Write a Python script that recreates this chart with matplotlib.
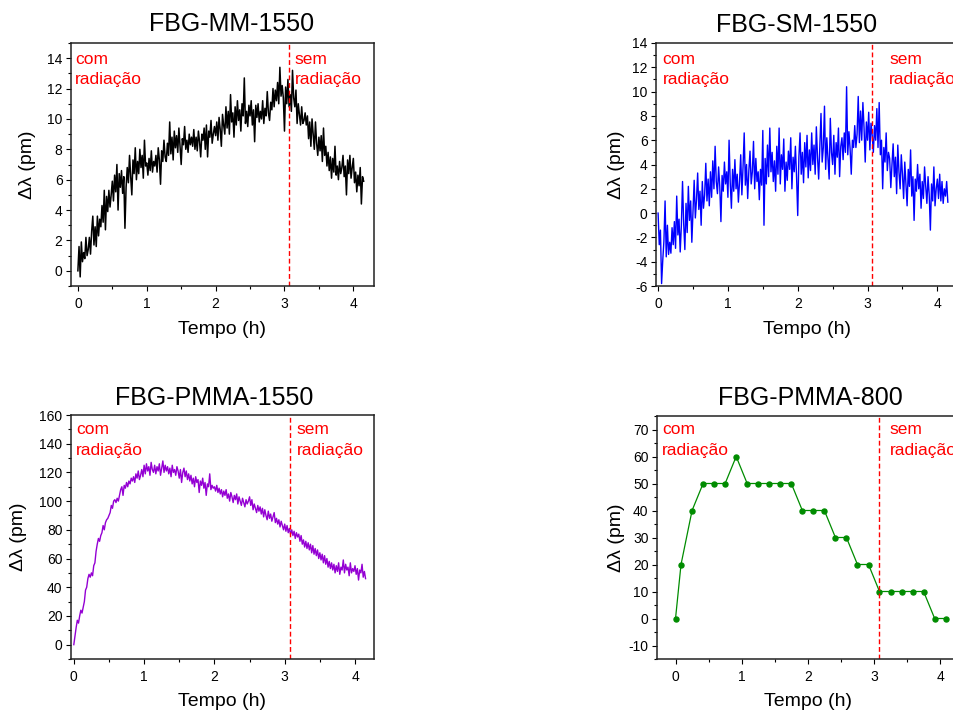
import numpy as np
import matplotlib
matplotlib.use("Agg")
import matplotlib.pyplot as plt
from matplotlib.ticker import MultipleLocator

plt.rcParams['font.family'] = ['Liberation Sans', 'DejaVu Sans']
plt.rcParams['axes.unicode_minus'] = False

# ---------------- data ----------------
sample_step_h = 1.0 / 60.0   # one reading per minute

mm_1550 = [
    0.0, 1.6, -0.4, 1.9, 0.6, 1.2, 0.8, 2.2, 1.0, 1.4,
    2.2, 1.1, 2.6, 3.6, 1.7, 2.9, 1.6, 3.6, 2.3, 3.4,
    2.9, 4.3, 3.2, 5.3, 2.7, 4.9, 3.9, 5.3, 4.2, 5.0,
    5.9, 4.6, 6.3, 5.2, 7.0, 4.0, 6.4, 5.5, 6.6, 5.1,
    6.2, 2.8, 5.5, 6.8, 5.8, 7.6, 6.2, 5.0, 7.3, 6.4,
    8.1, 6.0, 7.2, 6.4, 8.0, 6.8, 7.6, 6.1, 8.6, 6.9,
    7.1, 6.3, 7.4, 6.6, 7.9, 6.5, 7.2, 6.9, 7.6, 6.5,
    8.1, 7.3, 5.7, 7.9, 7.2, 8.6, 7.5, 7.2, 8.4, 7.6,
    9.8, 7.7, 8.8, 7.3, 9.2, 8.1, 8.9, 7.8, 9.4, 8.2,
    7.0, 8.7, 8.3, 9.5, 8.0, 8.6, 7.8, 9.0, 8.3, 8.8,
    8.2, 9.3, 8.0, 8.8, 7.9, 9.2, 8.5, 7.5, 9.0, 8.6,
    9.4, 8.0, 9.6, 7.5, 9.2, 8.8, 9.9, 8.4, 9.0, 9.5,
    8.9, 9.8, 8.6, 10.1, 9.3, 8.2, 10.3, 9.6, 9.0, 10.8,
    9.4, 10.5, 9.0, 11.6, 9.8, 10.4, 8.8, 10.8, 9.6, 11.2,
    9.9, 10.6, 9.2, 11.0, 10.2, 12.7, 9.7, 10.5, 9.5, 10.9,
    10.2, 11.2, 9.6, 10.6, 8.5, 10.9, 10.1, 11.0, 9.8, 10.5,
    10.0, 11.2, 9.7, 10.7, 10.2, 11.8, 10.4, 9.9, 11.1, 10.6,
    12.0, 10.8, 11.9, 11.2, 12.4, 11.0, 13.4, 11.5, 12.2, 11.4,
    9.2, 12.1, 11.0, 12.6, 10.8, 11.6, 10.5, 13.2, 11.4, 10.8,
    11.9, 9.7, 11.0, 10.3, 9.6, 10.8, 9.7, 9.9, 10.4, 9.6,
    10.2, 8.7, 9.8, 8.2, 10.0, 9.0, 8.0, 9.8, 8.4, 7.6,
    8.8, 7.9, 8.9, 7.2, 9.4, 7.6, 8.2, 6.9, 7.8, 6.6,
    7.5, 6.1, 7.4, 6.5, 8.2, 6.3, 6.9, 6.0, 7.2, 6.4,
    6.8, 7.6, 6.2, 6.9, 5.0, 7.3, 6.4, 7.6, 6.1, 6.8,
    7.4, 5.8, 6.5, 5.2, 6.3, 5.6, 6.8, 4.4, 6.2, 5.9,
]

sm_1550 = [
    0.0, -2.6, -1.4, -5.8, -3.9, -2.3, 1.0, -3.6, -1.0, -3.4,
    -2.4, -3.3, -1.2, -2.6, -0.7, -2.9, 1.4, -1.8, -0.5, -3.2,
    -1.0, 2.6, -0.9, -3.0, 0.8, -1.6, 2.2, -0.6, 1.0, -2.4,
    0.2, 2.7, -0.4, 1.1, 3.3, 0.3, 1.8, -1.0, 2.6, 0.4,
    1.5, 4.1, 1.0, 2.8, 0.6, 3.4, 1.3, 4.3, 2.0, 5.5,
    2.6, 1.6, 3.8, 2.2, -0.7, 3.1, 1.8, 4.2, 2.4, 3.4,
    1.3, 6.0, 2.5, 0.4, 3.6, 1.8, 4.4, 2.0, 3.2, 0.9,
    2.6, 4.8, 1.5, 3.8, 6.6, 2.3, 4.0, 1.2, 3.5, 5.1,
    2.4, 3.4, 5.9, 2.0, 4.5, 2.6, 3.4, 1.1, 3.6, 2.3,
    6.8, -1.0, 4.5, 2.4, 5.6, 3.0, 7.0, 3.4, 5.0, 2.6,
    4.3, 1.8, 5.5, 3.2, 7.0, 2.4, 4.8, 3.6, 6.1, 1.8,
    4.2, 2.7, 5.1, 3.6, 6.2, 2.0, 4.6, 3.4, 5.5, 3.0,
    -0.2, 4.6, 6.6, 3.2, 5.0, 2.5, 5.8, 3.8, 6.4, 2.9,
    5.2, 3.5, 6.6, 4.0, 5.6, 3.2, 7.1, 4.6, 2.8, 5.5,
    8.2, 4.2, 5.4, 8.8, 3.6, 6.2, 4.5, 2.8, 7.8, 5.0,
    4.0, 6.4, 3.2, 5.8, 4.6, 7.0, 3.0, 5.5, 6.2, 4.4,
    6.6, 5.0, 10.4, 4.8, 6.7, 5.3, 3.2, 6.0, 5.4, 7.2,
    5.4, 6.5, 9.6, 5.8, 8.4, 6.0, 9.1, 7.0, 4.2, 7.5,
    6.0, 8.3, 5.2, 7.4, 6.4, 5.0, 7.2, 6.0, 8.6, 5.4,
    9.1, 4.8, 6.0, 2.0, 5.4, 4.2, 6.6, 3.5, 5.0, 4.5,
    2.1, 4.0, 5.7, 3.0, 4.6, 1.6, 5.6, 3.4, 2.0, 4.8,
    3.2, 1.2, 4.2, 2.4, 0.6, 3.6, 2.2, 5.2, 1.4, 3.0,
    -0.6, 2.8, 1.8, 4.0, 2.0, 3.2, 0.4, 2.6, 1.2, 3.8,
    2.2, 0.8, 3.0, 1.5, -1.4, 2.4, 1.0, 3.8, 0.6, 2.0,
    2.8, 1.2, 3.2, 1.0, 2.6, 0.8, 2.0, 1.4, 2.6, 0.9,
]

pmma_1550 = [
    0, 6, 12, 17, 15, 20, 24, 22, 26, 30,
    38, 40, 46, 49, 47, 50, 48, 55, 57, 65,
    70, 74, 72, 76, 78, 83, 80, 85, 87, 88,
    90, 92, 97, 95, 100, 101, 99, 102, 100, 104,
    108, 110, 104, 111, 109, 113, 110, 114, 112, 116,
    114, 117, 113, 119, 116, 121, 115, 118, 122, 117,
    125, 119, 126, 121, 124, 118, 127, 122, 120, 125,
    119, 124, 121, 126, 118, 123, 128, 120, 125, 121,
    124, 119, 123, 117, 125, 120, 122, 118, 124, 121,
    116, 122, 113, 120, 123, 117, 121, 115, 119, 114,
    118, 112, 116, 110, 117, 113, 115, 106, 114, 111,
    116, 109, 113, 104, 112, 110, 119, 108, 111, 109,
    110, 107, 111, 106, 109, 105, 108, 103, 107, 104,
    108, 102, 105, 100, 106, 103, 99, 104, 101, 105,
    98, 103, 100, 97, 102, 99, 96, 101, 98, 100,
    103, 97, 101, 94, 98, 95, 92, 97, 93, 96,
    91, 95, 89, 94, 90, 87, 93, 88, 91, 86,
    89, 92, 85, 88, 84, 87, 82, 86, 83, 80,
    84, 79, 83, 78, 81, 77, 80, 76, 79, 74,
    78, 75, 77, 72, 76, 70, 73, 68, 72, 67,
    71, 66, 70, 64, 69, 63, 67, 62, 66, 60,
    64, 59, 63, 57, 62, 56, 60, 54, 58, 53,
    57, 52, 56, 50, 55, 51, 57, 49, 54, 52,
    59, 50, 56, 52, 54, 48, 57, 50, 53, 51,
    55, 49, 53, 45, 52, 50, 56, 47, 51, 46,
]

pmma_800_t = [0, 0.083, 0.25, 0.417, 0.583, 0.75, 0.917, 1.083, 1.25, 1.417,
              1.583, 1.75, 1.917, 2.083, 2.25, 2.417, 2.583, 2.75, 2.917, 3.083,
              3.25, 3.417, 3.583, 3.75, 3.917, 4.083]
pmma_800 = [0, 20, 40, 50, 50, 50, 60, 50, 50, 50,
            50, 50, 40, 40, 40, 30, 30, 20, 20, 10,
            10, 10, 10, 10, 0, 0]

t_switch = 3.07  # radiation switched off (h)

titles = ["FBG-MM-1550", "FBG-SM-1550", "FBG-PMMA-1550", "FBG-PMMA-800"]

# ---------------- figure ----------------
W, H = 954, 711
fig = plt.figure(figsize=(W / 100, H / 100), dpi=100)


def px_axes(left, top, right, bottom):
    return fig.add_axes([left / W, 1 - bottom / H, (right - left) / W, (bottom - top) / H])


ax1 = px_axes(71, 43, 374, 286)
ax2 = px_axes(656, 43, 959, 286)
ax3 = px_axes(71, 415, 374, 659)
ax4 = px_axes(657, 416, 960, 659)

t1 = np.arange(len(mm_1550)) * sample_step_h
t2 = np.arange(len(sm_1550)) * sample_step_h
t3 = np.arange(len(pmma_1550)) * sample_step_h

ax1.plot(t1, mm_1550, color='black', lw=1.1)
ax2.plot(t2, sm_1550, color='#0000FF', lw=1.0)
ax3.plot(t3, pmma_1550, color='#9400D3', lw=1.0)
ax4.plot(pmma_800_t, pmma_800, color='#008C00', lw=0.9, marker='o', ms=3.6)

settings = [
    # ax, xlim, ylim, ymajor, yminor, ylabel x, xlabel y, text left, sem left, text baselines
    (ax1, (-0.10, 4.30), (-1, 15), 2, 1, -0.1155, -0.145, 0.013, 0.739, (0.913, 0.830)),
    (ax2, (-0.03, 4.31), (-6, 14), 2, 1, -0.102, -0.145, 0.022, 0.769, (0.913, 0.830)),
    (ax3, (-0.04, 4.27), (-10, 160), 20, 10, -0.146, -0.140, 0.0165, 0.745, (0.922, 0.836)),
    (ax4, (-0.28, 4.30), (-15, 75), 10, 5, -0.105, -0.140, 0.0165, 0.768, (0.926, 0.840)),
]

for ax, xl, yl, ymaj, ymin, ylx, xly, txl, sxl, (b1, b2) in settings:
    ax.set_xlim(*xl)
    ax.set_ylim(*yl)
    ax.xaxis.set_major_locator(MultipleLocator(1))
    ax.xaxis.set_minor_locator(MultipleLocator(0.5))
    ax.yaxis.set_major_locator(MultipleLocator(ymaj))
    ax.yaxis.set_minor_locator(MultipleLocator(ymin))
    ax.tick_params(which='both', direction='out', top=False, right=False,
                   labelsize=10, width=0.8, colors='black')
    ax.tick_params(axis='y', pad=2.5)
    ax.tick_params(axis='x', pad=4.0)
    ax.tick_params(which='major', length=3.6)
    ax.tick_params(which='minor', length=2.2)
    for sp in ax.spines.values():
        sp.set_linewidth(1.1)
        sp.set_color('#222222')
    ax.set_xlabel("Tempo (h)", fontsize=14)
    ax.set_ylabel("Δλ (pm)", fontsize=14)
    ax.xaxis.set_label_coords(0.5, xly)
    ax.yaxis.set_label_coords(ylx, 0.5)
    ax.axvline(t_switch, color='#FF0000', lw=1.0, ls=(0, (3.5, 2)))
    ax.text(txl, b1, "com", color='#FF0000', fontsize=12.5, transform=ax.transAxes, va='baseline')
    ax.text(txl, b2, "radiação", color='#FF0000', fontsize=12.5, transform=ax.transAxes, va='baseline')
    ax.text(sxl, b1, "sem", color='#FF0000', fontsize=12.5, transform=ax.transAxes, va='baseline')
    ax.text(sxl, b2, "radiação", color='#FF0000', fontsize=12.5, transform=ax.transAxes, va='baseline')

# titles (pixel centre positions)
title_pos = [(232, 24), (797, 25), (214, 398), (810, 398)]
for (x, y), ttl in zip(title_pos, titles):
    fig.text(x / W, 1 - y / H, ttl, fontsize=18, ha='center', va='center')

fig.savefig("out.png", dpi=100)
